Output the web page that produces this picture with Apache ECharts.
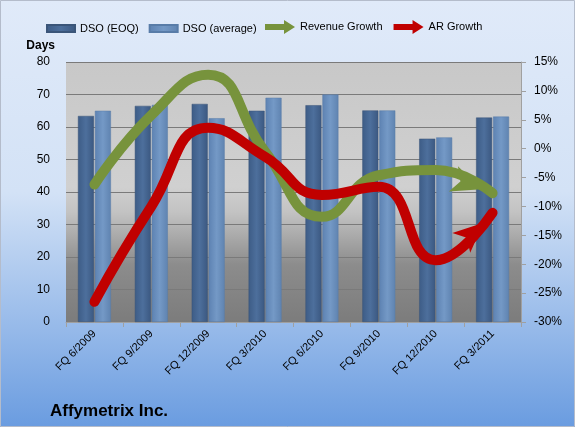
<!DOCTYPE html>
<html>
<head>
<meta charset="utf-8">
<script src="https://cdn.jsdelivr.net/npm/echarts@6/dist/echarts.min.js"></script>
<style>
  html, body { margin: 0; padding: 0; }
  #chart { width: 575px; height: 427px; }
</style>
</head>
<body>
<div id="chart"></div>
<script>
var quarters = ['FQ 6/2009', 'FQ 9/2009', 'FQ 12/2009', 'FQ 3/2010', 'FQ 6/2010', 'FQ 9/2010', 'FQ 12/2010', 'FQ 3/2011'];
var dsoEoq = [63.4, 66.5, 67.1, 65.0, 66.7, 65.1, 56.4, 62.9];
var dsoAvg = [65.0, 66.8, 62.7, 69.0, 70.0, 65.1, 56.8, 63.2];
var revenueGrowth = [-6.2, 5.8, 12.8, -0.5, -11.8, -4.6, -3.7, -7.7];
var arGrowth = [-26.5, -10.0, 3.6, -1.4, -8.0, -6.6, -19.3, -11.1];

var font = 'Liberation Sans';
var green = '#77933c';
var red = '#c00000';
var arrowIcon = 'path://M0,4 L19,4 L19,0 L30,7 L19,14 L19,10 L0,10 Z';

// last point of each growth line gets an arrow head
function withArrow(arr, rotate, offset) {
    return arr.map(function (v, i) {
        if (i < arr.length - 1) return v;
        return { value: v, symbol: 'arrow', symbolSize: [20, 30], symbolRotate: rotate, symbolOffset: offset };
    });
}

var myChart = echarts.init(document.getElementById('chart'));
var option = {
    animation: false,
    backgroundColor: {
        type: 'linear', x: 0, y: 0, x2: 0, y2: 1,
        colorStops: [
            { offset: 0, color: '#e0eaf9' },
            { offset: 0.45, color: '#d3e2f6' },
            { offset: 1, color: '#6a9ce0' }
        ]
    },
    textStyle: { fontFamily: font },
    graphic: [{
        type: 'rect',
        shape: { x: 0.5, y: 0.5, width: 574, height: 426 },
        style: { fill: 'none', stroke: '#b4bccb', lineWidth: 1 },
        silent: true
    }],
    title: {
        text: 'Affymetrix Inc.',
        left: 45, top: 398,
        textStyle: { fontFamily: font, fontSize: 17, fontWeight: 'bold', color: '#000' }
    },
    legend: [{
        top: 18, left: 41,
        itemGap: 10,
        itemWidth: 28, itemHeight: 7,
        textStyle: { fontFamily: font, fontSize: 11, color: '#000' },
        data: [
            { name: 'DSO (EOQ)', icon: 'rect' },
            { name: 'DSO (average)', icon: 'rect' }
        ]
    }, {
        top: 15, left: 260,
        itemGap: 11,
        itemWidth: 30, itemHeight: 14,
        textStyle: { fontFamily: font, fontSize: 11, color: '#000' },
        data: [
            { name: 'Revenue Growth', icon: arrowIcon },
            { name: 'AR Growth', icon: arrowIcon }
        ]
    }],
    grid: {
        left: 66, right: 54, top: 62, bottom: 105,
        show: true,
        borderWidth: 0,
        backgroundColor: {
            type: 'linear', x: 0, y: 0, x2: 0, y2: 1,
            colorStops: [
                { offset: 0, color: '#c8c8c8' },
                { offset: 0.48, color: '#d0d0d0' },
                { offset: 0.58, color: '#c2c2c2' },
                { offset: 0.78, color: '#8c8c8c' },
                { offset: 1, color: '#7c7c7c' }
            ]
        }
    },
    xAxis: {
        type: 'category',
        data: quarters,
        axisLine: { lineStyle: { color: '#a0a0a0' } },
        axisTick: { show: true, length: 5, lineStyle: { color: '#a0a0a0' } },
        axisLabel: { rotate: 45, color: '#000', fontSize: 11, fontFamily: font, margin: 10 }
    },
    yAxis: [{
        type: 'value',
        name: 'Days',
        nameLocation: 'end',
        nameGap: 10,
        nameTextStyle: { fontWeight: 'bold', fontSize: 12, color: '#000', align: 'right', padding: [0, 11, 0, 0] },
        min: 0, max: 80, interval: 10,
        axisLine: { show: false },
        axisTick: { show: false },
        axisLabel: { color: '#000', fontSize: 12, fontFamily: font, margin: 16 },
        splitLine: { lineStyle: { color: '#7a7a7a', width: 1 } }
    }, {
        type: 'value',
        min: -30, max: 15, interval: 5,
        axisLine: { show: true, lineStyle: { color: '#a0a0a0' } },
        axisTick: { show: true, length: 5, lineStyle: { color: '#a0a0a0' } },
        axisLabel: { color: '#000', fontSize: 12, fontFamily: font, formatter: '{value}%', margin: 13 },
        splitLine: { show: false }
    }],
    series: [{
        name: 'DSO (EOQ)',
        type: 'bar',
        data: dsoEoq,
        barWidth: 16,
        barGap: '6%',
        itemStyle: {
            color: {
                type: 'linear', x: 0, y: 0, x2: 1, y2: 0,
                colorStops: [
                    { offset: 0, color: '#3d5c86' },
                    { offset: 0.5, color: '#4d6f9c' },
                    { offset: 1, color: '#3b5881' }
                ]
            },
            borderColor: '#3a5579', borderWidth: 0.5
        }
    }, {
        name: 'DSO (average)',
        type: 'bar',
        data: dsoAvg,
        barWidth: 16,
        itemStyle: {
            color: {
                type: 'linear', x: 0, y: 0, x2: 1, y2: 0,
                colorStops: [
                    { offset: 0, color: '#5d82b2' },
                    { offset: 0.5, color: '#7499c6' },
                    { offset: 1, color: '#5f83b0' }
                ]
            },
            borderColor: '#587ca8', borderWidth: 0.5
        }
    }, {
        name: 'Revenue Growth',
        type: 'line',
        yAxisIndex: 1,
        smooth: 0.5,
        data: withArrow(revenueGrowth, -110, [-11, -4]),
        symbol: 'none',
        showSymbol: true,
        color: green,
        lineStyle: { color: green, width: 10, cap: 'round' },
        itemStyle: { color: green }
    }, {
        name: 'AR Growth',
        type: 'line',
        yAxisIndex: 1,
        smooth: 0.5,
        data: withArrow(arGrowth, -48, [-9, 10]),
        symbol: 'none',
        showSymbol: true,
        color: red,
        lineStyle: { color: red, width: 10, cap: 'round' },
        itemStyle: { color: red }
    }]
};
myChart.setOption(option);
window.addEventListener('resize', function () { myChart.resize(); });
</script>
</body>
</html>
